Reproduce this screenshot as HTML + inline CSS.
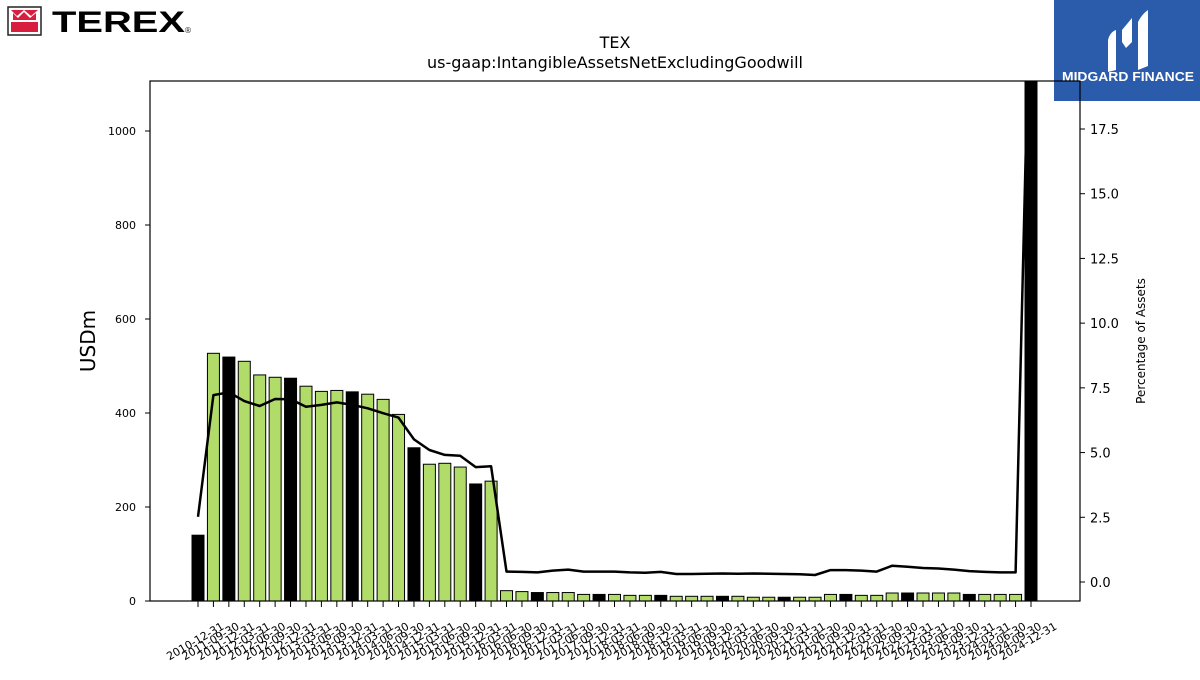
<!DOCTYPE html>
<html><head><meta charset="utf-8"><style>
body{margin:0;background:#fff;width:1200px;height:675px;overflow:hidden;font-family:"Liberation Sans","DejaVu Sans",sans-serif;}
svg text{font-family:"DejaVu Sans","Liberation Sans",sans-serif;}
</style></head><body>
<svg id="chart" width="1200" height="675" xmlns="http://www.w3.org/2000/svg">
  <g>
    <rect x="8" y="7" width="33" height="28" fill="#fff" stroke="#222" stroke-width="1.5"/>
    <rect x="11" y="10" width="27" height="22" fill="#d81e3f"/>
    <path d="M11 10 L17 16 L24 10 L31 16 L38 10 L38 22 L11 22 Z" fill="#fff"/>
    <path d="M13 13 L18 18 L24 12 L30 18 L36 13 L36 20 L13 20 Z" fill="#d81e3f"/>
    <text x="52" y="32" font-size="30" font-weight="bold" fill="#000" textLength="133" lengthAdjust="spacingAndGlyphs" style="font-family:'Liberation Sans',sans-serif">TEREX</text>
    <text x="184" y="33" font-size="8" fill="#333">®</text>
  </g>
  <g>
    <rect x="1054" y="0" width="146" height="101" fill="#2b5bab"/>
    <path d="M1108 40 Q1110 32 1116 30 L1116 70 L1108 72 Z" fill="#fff"/>
    <path d="M1122 30 L1132 18 L1132 42 L1126 48 L1122 42 Z" fill="#fff"/>
    <path d="M1138 22 Q1142 14 1148 10 L1148 66 L1138 70 Z" fill="#fff"/>
    <text x="1062" y="81" font-size="13" font-weight="bold" fill="#fff" textLength="132" lengthAdjust="spacingAndGlyphs" style="font-family:'Liberation Sans',sans-serif">MIDGARD FINANCE</text>
  </g>
  <text x="615" y="48" font-size="16" text-anchor="middle">TEX</text>
  <text x="615" y="68" font-size="16" text-anchor="middle">us-gaap:IntangibleAssetsNetExcludingGoodwill</text>
  <defs><clipPath id="plotclip"><rect x="150" y="81" width="930" height="520"/></clipPath></defs>
  <g id="bars" clip-path="url(#plotclip)"></g>
  <g id="line" clip-path="url(#plotclip)"></g>
  <g id="axes"></g>
  <text transform="translate(95,341) rotate(-90)" font-size="20" text-anchor="middle">USDm</text>
  <text transform="translate(1145,341) rotate(-90)" font-size="12" text-anchor="middle">Percentage of Assets</text>
</svg>
<script>
const categories = ["2010-12-31","2011-09-30","2011-12-31","2012-03-31","2012-06-30","2012-09-30","2012-12-31","2013-03-31","2013-06-30","2013-09-30","2013-12-31","2014-03-31","2014-06-30","2014-09-30","2014-12-31","2015-03-31","2015-06-30","2015-09-30","2015-12-31","2016-03-31","2016-06-30","2016-09-30","2016-12-31","2017-03-31","2017-06-30","2017-09-30","2017-12-31","2018-03-31","2018-06-30","2018-09-30","2018-12-31","2019-03-31","2019-06-30","2019-09-30","2019-12-31","2020-03-31","2020-06-30","2020-09-30","2020-12-31","2021-03-31","2021-06-30","2021-09-30","2021-12-31","2022-03-31","2022-06-30","2022-09-30","2022-12-31","2023-03-31","2023-06-30","2023-09-30","2023-12-31","2024-03-31","2024-06-30","2024-09-30","2024-12-31"];
const values = [140,527,519,510,481,476,474,457,446,448,445,440,429,397,326,291,293,285,249,255,22,20,18,18,18,14,14,14,12,12,12,10,10,10,10,10,8,8,8,8,8,14,14,12,12,17,17,17,17,17,14,14,14,14,1110];
const pctValues = [2.52,7.22,7.33,6.99,6.80,7.07,7.06,6.77,6.84,6.94,6.84,6.71,6.52,6.35,5.51,5.10,4.91,4.88,4.44,4.47,0.40,0.39,0.37,0.44,0.48,0.40,0.40,0.40,0.37,0.36,0.39,0.31,0.31,0.32,0.33,0.32,0.33,0.32,0.31,0.30,0.27,0.46,0.46,0.44,0.40,0.63,0.59,0.54,0.52,0.48,0.42,0.39,0.37,0.37,25];
const leftTicks = [0,200,400,600,800,1000];
const rightTicks = [0.0,2.5,5.0,7.5,10.0,12.5,15.0,17.5];

const NS="http://www.w3.org/2000/svg";
const X0=198, X1=1031;
const xPos = i => X0 + (X1-X0)*i/(categories.length-1);
const yL = v => 601 - v*0.47;
const yR = v => 582 - v*(453/17.5);
function mk(tag, attrs, parent){const e=document.createElementNS(NS,tag);for(const k in attrs)e.setAttribute(k,attrs[k]);parent.appendChild(e);return e;}
const bars=document.getElementById('bars'), line=document.getElementById('line'), axes=document.getElementById('axes');
const bw=12;
values.forEach((v,i)=>{
  const black = categories[i].endsWith("12-31");
  const r=mk('rect',{x:xPos(i)-bw/2,y:yL(v),width:bw,height:601-yL(v),fill:black?'#000':'#b2dc69',stroke:'#000','stroke-width':1},bars);
  
  
});
const pts=pctValues.map((v,i)=>xPos(i).toFixed(1)+','+yR(v).toFixed(1)).join(' ');
const pl=mk('polyline',{points:pts,fill:'none',stroke:'#000','stroke-width':2.5,'stroke-linejoin':'round'},line);


const fr=mk('rect',{x:150,y:81,width:930,height:520,fill:'none',stroke:'#000','stroke-width':1.2},axes);


leftTicks.forEach(t=>{
  const y=yL(t);
  mk('line',{x1:145,x2:150,y1:y,y2:y,stroke:'#000'},axes);
  const tx=mk('text',{x:136,y:y+4,'font-size':11,'text-anchor':'end'},axes);
  tx.textContent=t;
  
  
});
rightTicks.forEach(t=>{
  const y=yR(t);
  mk('line',{x1:1080,x2:1085,y1:y,y2:y,stroke:'#000'},axes);
  const tx=mk('text',{x:1090,y:y+5,'font-size':13},axes);
  tx.textContent=t.toFixed(1);
  
  
});
categories.forEach((c,i)=>{
  const x=xPos(i);
  mk('line',{x1:x,x2:x,y1:601,y2:607,stroke:'#000'},axes);
  const tx=mk('text',{transform:`translate(${x-3},${641}) rotate(-30)`,'font-size':11,'text-anchor':'middle',dy:'4'},axes);
  tx.textContent=c;
  
  
});
</script>
</body></html>
